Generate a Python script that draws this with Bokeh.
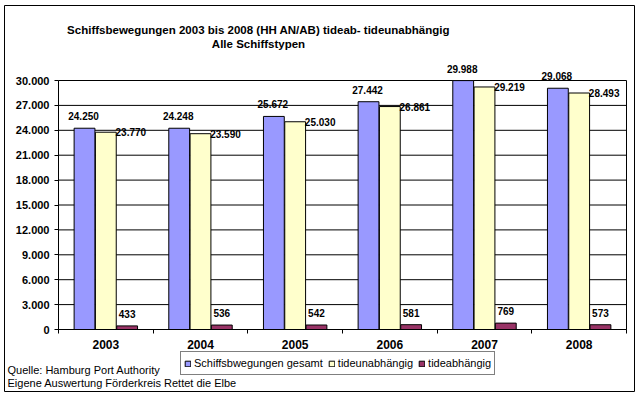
from bokeh.plotting import figure
from bokeh.models import (ColumnDataSource, LabelSet, Label, Legend, LegendItem,
                          FixedTicker, Range1d)
from bokeh.core.properties import value
from bokeh.embed import file_html
from bokeh.resources import INLINE

# ---- data ----
years = ["2003", "2004", "2005", "2006", "2007", "2008"]
gesamt = [24250, 24248, 25672, 27442, 29988, 29068]
tideunabh = [23770, 23590, 25030, 26861, 29219, 28493]
tideabh = [433, 536, 542, 581, 769, 573]
y_ticks = list(range(0, 30001, 3000))
series_names = ["Schiffsbwegungen gesamt", "tideunabhängig", "tideabhängig"]
colors = ["#9999FF", "#FFFFCC", "#993366"]
title_lines = ["Schiffsbewegungen 2003 bis 2008 (HH AN/AB) tideab- tideunabhängig",
               "Alle Schiffstypen"]
source_lines = ["Quelle: Hamburg Port Authority",
                "Eigene Auswertung Förderkreis Rettet die Elbe"]

# ---- layout (page pixels) ----
W, H = 640, 396
FX0, FX1, FY0, FY1 = 4, 634, 5, 391        # outer chart border (= bokeh frame)
PX0, PX1, PY0, PY1 = 58, 626, 80, 329      # plot area
NCAT = len(years)
YMAX = y_ticks[-1]
XA, XB = -0.5, NCAT - 0.5                  # plot area in data x

kx = (PX1 - PX0) / (XB - XA)
ky = (PY1 - PY0) / YMAX
x_start = XA - (PX0 - FX0) / kx
x_end = XB + (FX1 - PX1) / kx
y_start = -(FY1 - PY1) / ky
y_end = YMAX + (PY0 - FY0) / ky

def dx(px):
    return XA + (px - PX0) / kx

def dy(py):
    return (PY1 - py) / ky

FONT = "Liberation Sans"

def fmt(v):
    return f"{v:,}".replace(",", ".")

p = figure(width=W, height=H, output_backend="svg", toolbar_location=None,
           x_range=Range1d(x_start, x_end), y_range=Range1d(y_start, y_end),
           min_border_left=FX0, min_border_top=FY0,
           min_border_right=W - FX1, min_border_bottom=H - FY1)
p.background_fill_color = "white"
p.border_fill_color = "white"
p.outline_line_color = "black"
p.outline_line_width = 1
p.xgrid.visible = False
p.ygrid.visible = False

# plot-area gridlines and right edge
p.segment(x0=[XA] * len(y_ticks), x1=[XB] * len(y_ticks), y0=y_ticks, y1=y_ticks,
          line_color="black", line_width=1)
p.segment(x0=[XB], x1=[XB], y0=[0], y1=[YMAX], line_color="black", line_width=1)

idx = list(range(NCAT))
off = [-0.225, 0.0, 0.225]
bw = 0.22
series = [gesamt, tideunabh, tideabh]
renderers = []
sources = []
for k, vals in enumerate(series):
    src = ColumnDataSource(dict(x=[i + off[k] for i in idx], top=vals,
                                lab=[fmt(v) for v in vals]))
    sources.append(src)
    r = p.vbar(x="x", top="top", width=bw, bottom=0, source=src,
               fill_color=colors[k], line_color="black", line_width=1)
    renderers.append(r)

# y axis
p.yaxis.fixed_location = XA
p.yaxis.bounds = (0, YMAX)
p.yaxis.ticker = FixedTicker(ticks=y_ticks)
p.yaxis.major_label_overrides = {t: fmt(t) for t in y_ticks}
p.yaxis.major_tick_out = 4
p.yaxis.major_tick_in = 0
p.yaxis.minor_tick_out = 0
p.yaxis.minor_tick_in = 0
p.yaxis.axis_line_color = "black"
p.yaxis.major_tick_line_color = "black"
p.yaxis.major_label_text_font = FONT
p.yaxis.major_label_text_font_style = "bold"
p.yaxis.major_label_text_font_size = "11px"
p.yaxis.major_label_text_color = "black"
p.yaxis.major_label_standoff = 5

# x axis
p.xaxis.fixed_location = 0
p.xaxis.bounds = (XA, XB)
p.xaxis.ticker = FixedTicker(ticks=idx, minor_ticks=[i - 0.5 for i in range(NCAT + 1)])
p.xaxis.major_label_overrides = {i: y for i, y in zip(idx, years)}
p.xaxis.major_tick_out = 0
p.xaxis.major_tick_in = 0
p.xaxis.minor_tick_out = 4
p.xaxis.minor_tick_in = 0
p.xaxis.minor_tick_line_color = "black"
p.xaxis.axis_line_color = "black"
p.xaxis.major_label_text_font = FONT
p.xaxis.major_label_text_font_style = "bold"
p.xaxis.major_label_text_font_size = "12px"
p.xaxis.major_label_text_color = "black"
p.xaxis.major_label_standoff = 6

# data labels
lab_cfg = [dict(x_offset=-1, y_offset=8, text_baseline="alphabetic"),
           dict(x_offset=25, y_offset=0, text_baseline="middle"),
           dict(x_offset=0, y_offset=8, text_baseline="alphabetic")]
for k, src in enumerate(sources):
    ls = LabelSet(x="x", y="top", text="lab", source=src, text_align="center",
                  text_font=value(FONT), text_font_style="bold",
                  text_font_size="10px", text_color="black", **lab_cfg[k])
    p.add_layout(ls)

# title
for line, py in zip(title_lines, [29.5, 43.5]):
    p.add_layout(Label(x=dx(258), y=dy(py), text=line, text_align="center",
                       text_baseline="alphabetic", text_font=FONT,
                       text_font_style="bold", text_font_size="11.5px",
                       text_color="black"))

# source notes
for line, py in zip(source_lines, [369.5, 382.5]):
    p.add_layout(Label(x=dx(7), y=dy(py), text=line, text_align="left",
                       text_baseline="alphabetic", text_font=FONT,
                       text_font_size="11px", text_color="black"))

legend = Legend(items=[LegendItem(label=n, renderers=[r])
                       for n, r in zip(series_names, renderers)],
                location=(180 - FX0, FY1 - 375), orientation="horizontal")
legend.border_line_color = "black"
legend.border_line_width = 1
legend.background_fill_color = "white"
legend.background_fill_alpha = 1
legend.label_text_font = FONT
legend.label_text_font_size = "11px"
legend.label_text_color = "black"
legend.glyph_width = 7
legend.glyph_height = 7
legend.label_standoff = 3
legend.spacing = 5
legend.padding = 3
legend.margin = 0
legend.label_height = 16
p.add_layout(legend)

open("out.html", "w").write(file_html(p, INLINE))
